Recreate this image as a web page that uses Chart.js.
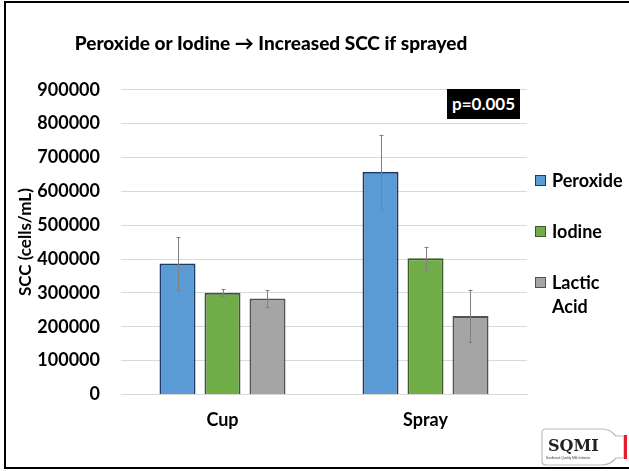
<!DOCTYPE html>
<html>
<head>
<meta charset="utf-8">
<script src="https://cdn.jsdelivr.net/npm/chart.js@4.4.0/dist/chart.umd.min.js"></script>
<style>
  html, body { margin:0; padding:0; background:#fff; }
  #wrap { position:relative; width:629px; height:471px; overflow:hidden; font-family: Lato, "Open Sans", sans-serif; }
  #c { position:absolute; left:0; top:0; }
  #frame { position:absolute; left:4px; top:1px; width:640px; height:468px; border:2px solid #000; border-right:none; box-sizing:border-box; pointer-events:none; }
  #pval { position:absolute; left:447px; top:89px; width:73px; height:30px; background:#000; color:#fff; font-weight:bold; font-size:17px; line-height:30px; text-align:center; }
  #legend { position:absolute; left:535px; top:0; }
  .li { position:absolute; left:0; display:flex; align-items:flex-start; font-weight:bold; font-size:18px; line-height:24px; color:#000; }
  .sw { width:9px; height:9px; border:1.5px solid; margin-top:7px; margin-right:6px; flex:none; }
  .lt { width:76px; }
  #logo { position:absolute; left:540px; top:426px; }
</style>
</head>
<body>
<div id="wrap">
  <canvas id="c" width="629" height="471"></canvas>
  <div id="frame"></div>
  <div id="pval">p=0.005</div>
  <div id="legend"></div>
  <svg id="logo" width="89" height="42" viewBox="0 0 89 42">
    <path d="M6 3 H62 Q70 3 76 10 H84 V32 H76 Q70 39 62 39 H6 Q2 39 2 35 V7 Q2 3 6 3 Z" fill="#fff" stroke="#bbb" stroke-width="1.2"/>
    <rect x="84" y="9" width="3" height="24" fill="#e0202a"/>
    <text x="8" y="25" font-family="'DejaVu Serif', 'Liberation Serif', serif" font-weight="bold" font-size="16" fill="#222">SQMI</text>
    <text x="6" y="33" font-family="'Liberation Sans', sans-serif" font-size="3.2" fill="#333">Southeast Quality Milk Initiative</text>
  </svg>
</div>
<script>
const categories = ["Cup", "Spray"];
const seriesNames = ["Peroxide", "Iodine", "Lactic Acid"];
const peroxide = [387000, 658000];
const iodine = [300000, 402000];
const lacticAcid = [283000, 232000];
const peroxideErr = [78000, 109000];
const iodineErr = [10500, 34000];
const lacticAcidErr = [24000, 77500];
const yTicks = [0, 100000, 200000, 300000, 400000, 500000, 600000, 700000, 800000, 900000];
const titleText = "Peroxide or Iodine \u2192 Increased SCC if sprayed";
const yTitle = "SCC (cells/mL)";

const fills = ["#5B9BD5", "#70AD47", "#A5A5A5"];
const borders = ["#1F3864", "#3A5A28", "#525252"];
const values = [peroxide, iodine, lacticAcid];
const errs = [peroxideErr, iodineErr, lacticAcidErr];

const FONT = "Lato, 'Open Sans', sans-serif";

const errorBarPlugin = {
  id: 'errorBars',
  afterDatasetsDraw(chart) {
    const ctx = chart.ctx;
    const y = chart.scales.y;
    chart.data.datasets.forEach((ds, di) => {
      const meta = chart.getDatasetMeta(di);
      meta.data.forEach((bar, i) => {
        const v = ds.data[i], e = ds.errors[i];
        const yt = y.getPixelForValue(v + e), yb = y.getPixelForValue(v - e);
        const x = Math.round(bar.x) + 0.5;
        ctx.save();
        ctx.strokeStyle = '#808080';
        ctx.lineWidth = 1;
        ctx.beginPath();
        ctx.moveTo(x, yt); ctx.lineTo(x, yb);
        ctx.moveTo(x - 2, Math.round(yt) + 0.5); ctx.lineTo(x + 2, Math.round(yt) + 0.5);
        ctx.moveTo(x - 2, Math.round(yb) + 0.5); ctx.lineTo(x + 2, Math.round(yb) + 0.5);
        ctx.stroke();
        ctx.restore();
      });
    });
  }
};

const chart = new Chart(document.getElementById('c'), {
  type: 'bar',
  data: {
    labels: categories,
    datasets: seriesNames.map((n, i) => ({
      label: n,
      data: values[i],
      errors: errs[i],
      backgroundColor: fills[i],
      borderColor: borders[i],
      borderWidth: 2,
      borderSkipped: 'bottom',
      barPercentage: 0.8,
      categoryPercentage: 0.665
    }))
  },
  options: {
    responsive: false,
    animation: false,
    devicePixelRatio: 1,
    layout: { padding: { left: 15, right: 102, top: 20, bottom: 26 } },
    plugins: {
      legend: { display: false },
      tooltip: { enabled: false },
      title: {
        display: true,
        text: titleText,
        color: '#000',
        font: { family: FONT, size: 19, weight: 900 },
        padding: { top: 12, bottom: 35 }
      }
    },
    scales: {
      x: {
        grid: { display: false, drawTicks: false },
        border: { display: true, color: '#D9D9D9', width: 1 },
        ticks: { color: '#000', font: { family: FONT, size: 18, weight: 'bold' }, padding: 14.5 }
      },
      y: {
        min: 0, max: 900000,
        afterBuildTicks(s) { s.ticks = yTicks.map(v => ({ value: v })); },
        afterFit(s) { s.width = 106; },
        grid: { color: '#D9D9D9', lineWidth: 1, drawTicks: false },
        border: { display: false },
        ticks: { color: '#000', font: { family: FONT, size: 18, weight: 'bold' }, padding: 21,
                 callback: (v) => String(v) },
        title: {
          display: true, text: yTitle, color: '#000',
          font: { family: FONT, size: 17, weight: 'bold' },
          padding: { top: 0, bottom: 0 }
        }
      }
    }
  },
  plugins: [errorBarPlugin]
});

// HTML legend from the series
const legendTops = [168, 219, 270];
const lg = document.getElementById('legend');
seriesNames.forEach((n, i) => {
  const d = document.createElement('div');
  d.className = 'li';
  d.style.top = legendTops[i] + 'px';
  d.innerHTML = '<div class="sw" style="background:' + fills[i] + ';border-color:' + borders[i] + '"></div><div class="lt">' + n + '</div>';
  lg.appendChild(d);
});
</script>
</body>
</html>
